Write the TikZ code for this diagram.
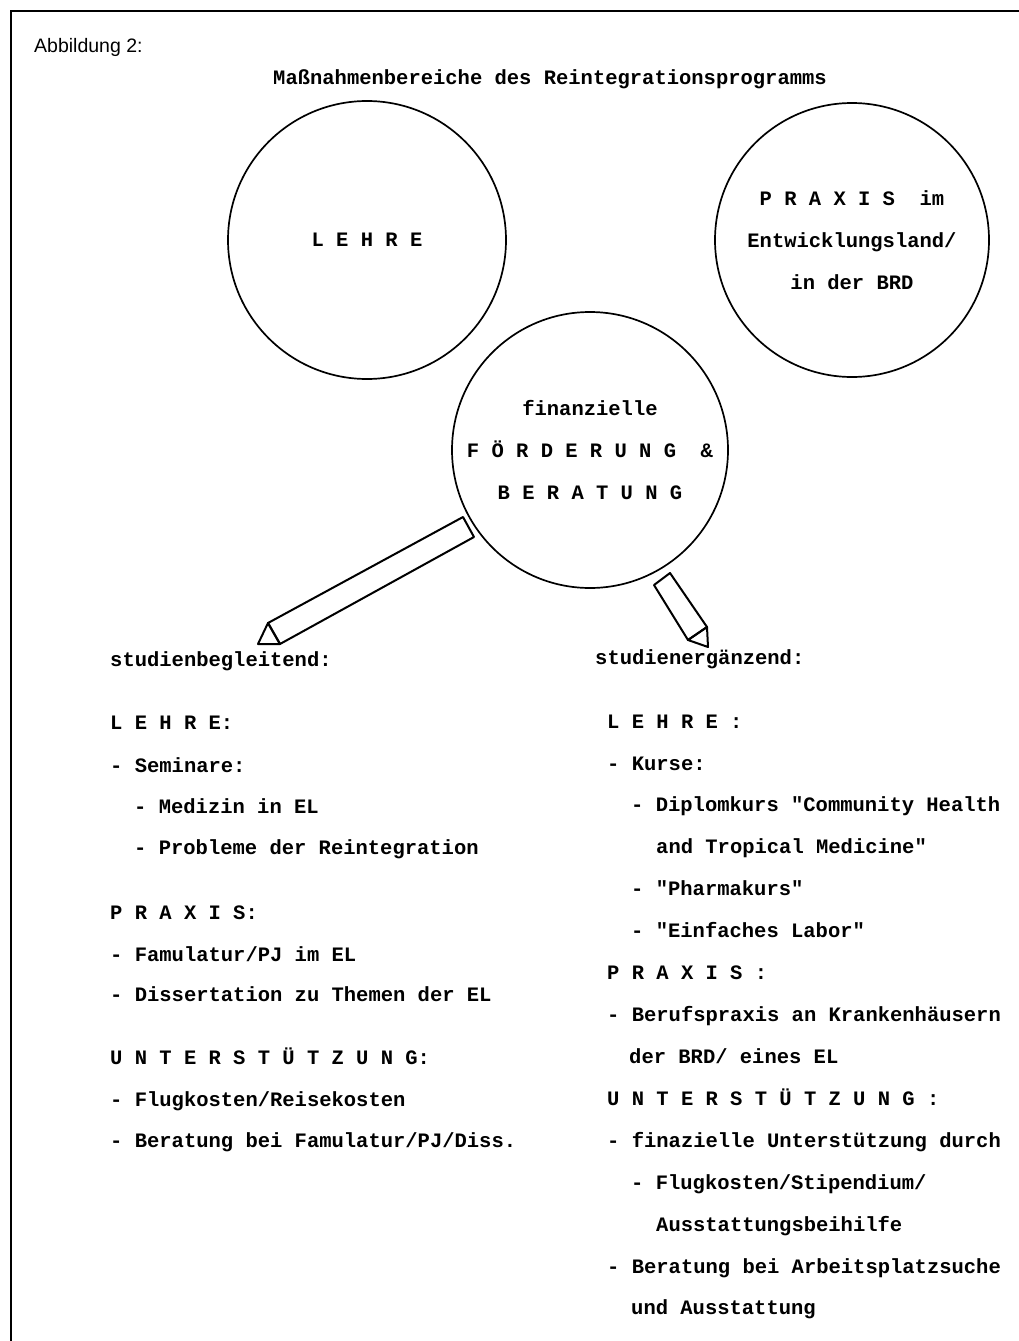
\documentclass[tikz,border=0pt]{standalone}
\usepackage{fontspec}
\newfontfamily\typew{Liberation Mono}
\newfontfamily\labelsans{Liberation Sans}
\begin{document}
\begin{tikzpicture}[x=1pt,y=-1pt,
  tw/.style={font=\typew\bfseries\fontsize{20.5}{42}\selectfont, inner sep=0pt},
  txt/.style={tw, anchor=base west},
  area/.style={circle, draw, line width=1.7pt, inner sep=0pt, align=center, tw},
  pencil/.style={draw, line width=2pt, line join=round}]
\useasboundingbox[fill=white] (0,0) rectangle (1019,1341);

% frame
\draw[line width=2.7pt] (11,1341) -- (11,11) -- (1019,11);

\node[anchor=west, inner sep=0pt, font=\labelsans\fontsize{19.5}{22}\selectfont] (fig) at (34,47) {Abbildung 2:};
\node[tw, anchor=base] (title) at (550,84) {Maßnahmenbereiche des Reintegrationsprogramms};

% circles
\node[area, minimum size=278pt] (lehre) at (367,240) {L E H R E};
\node[area, minimum size=274pt] (praxis) at (852,240) {P R A X I S\ \ im\\Entwicklungsland/\\in der BRD};
\node[area, minimum size=276pt] (foerd) at (590,450) {finanzielle\\F Ö R D E R U N G\ \ \&\\B E R A T U N G};

% pencils
\coordinate (a1) at (463,517); \coordinate (a2) at (474,537);
\coordinate (b1) at (268,623); \coordinate (b2) at (280,644);
\coordinate (bt) at (258,644);
\draw[pencil] (a1) -- (a2) -- (b2) -- (b1) -- cycle;
\draw[pencil] (b1) -- (bt) -- (b2) -- cycle;

\coordinate (c1) at (654,585); \coordinate (c2) at (670,573);
\coordinate (d1) at (688,640); \coordinate (d2) at (707,627);
\coordinate (dt) at (708,647);
\draw[pencil] (c1) -- (c2) -- (d2) -- (d1) -- cycle;
\draw[pencil] (d1) -- (dt) -- (d2) -- cycle;

% left column
\node[txt] (l0) at (110,666) {studienbegleitend:};
\node[txt] (l1) at (110,729) {L E H R E:};
\node[txt] (l2) at (110,772) {- Seminare:};
\node[txt] (l3) at (134,813) {- Medizin in EL};
\node[txt] (l4) at (134,854) {- Probleme der Reintegration};
\node[txt] (l5) at (110,919) {P R A X I S:};
\node[txt] (l6) at (110,961) {- Famulatur/PJ im EL};
\node[txt] (l7) at (110,1001) {- Dissertation zu Themen der EL};
\node[txt] (l8) at (110,1064) {U N T E R S T Ü T Z U N G:};
\node[txt] (l9) at (110,1106) {- Flugkosten/Reisekosten};
\node[txt] (l10) at (110,1147) {- Beratung bei Famulatur/PJ/Diss.};

% right column
\node[txt] (r0) at (595,664) {studienergänzend:};
\node[txt] (r1) at (607,728) {L E H R E :};
\node[txt] (r2) at (607,770) {- Kurse:};
\node[txt] (r3) at (631,811) {- Diplomkurs "Community Health};
\node[txt] (r4) at (656,853) {and Tropical Medicine"};
\node[txt] (r5) at (631,895) {- "Pharmakurs"};
\node[txt] (r6) at (631,937) {- "Einfaches Labor"};
\node[txt] (r7) at (607,979) {P R A X I S :};
\node[txt] (r8) at (607,1021) {- Berufspraxis an Krankenhäusern};
\node[txt] (r9) at (629,1063) {der BRD/ eines EL};
\node[txt] (r10) at (607,1105) {U N T E R S T Ü T Z U N G :};
\node[txt] (r11) at (607,1147) {- finazielle Unterstützung durch};
\node[txt] (r12) at (631,1189) {- Flugkosten/Stipendium/};
\node[txt] (r13) at (656,1231) {Ausstattungsbeihilfe};
\node[txt] (r14) at (607,1273) {- Beratung bei Arbeitsplatzsuche};
\node[txt] (r15) at (631,1314) {und Ausstattung};
\end{tikzpicture}
\end{document}
